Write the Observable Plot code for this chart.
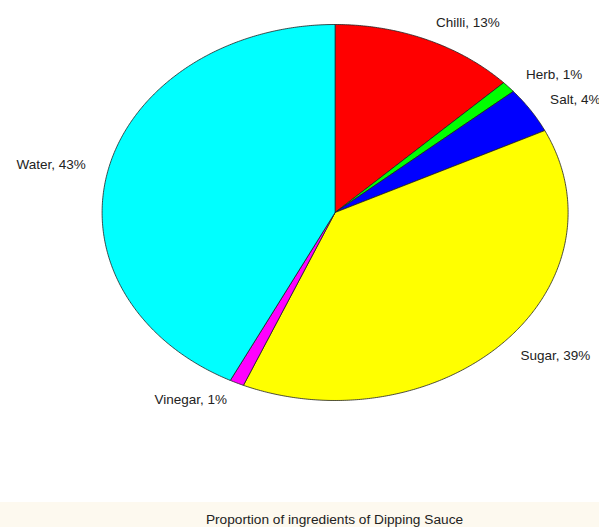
<!DOCTYPE html>
<html>
<head>
<meta charset="utf-8">
<script src="https://cdn.jsdelivr.net/npm/d3@7"></script>
<script src="https://cdn.jsdelivr.net/npm/@observablehq/plot@0.6"></script>
<style>
  html, body { margin: 0; padding: 0; background: #ffffff; }
  #chart svg { display: block; }
  #caption {
    width: 599px; height: 25px; background: #fdf9ef;
    font-family: "Liberation Sans", Arial, sans-serif; font-size: 13.7px; color: #222;
    text-align: center; line-height: 14px; padding-top: 11px; padding-left: 70px;
    box-sizing: border-box; overflow: hidden; white-space: nowrap;
  }
</style>
</head>
<body>
<div id="chart"></div>
<div id="caption">Proportion of ingredients of Dipping Sauce</div>
<script>
const ingredients = ["Chilli", "Herb", "Salt", "Sugar", "Vinegar", "Water"];
const amounts = [13, 1, 4, 39, 1, 43];
const percentLabels = ["13%", "1%", "4%", "39%", "1%", "43%"];
const colors = ["#ff0000", "#00ff00", "#0000ff", "#ffff00", "#ff00ff", "#00ffff"];

const total = d3.sum(amounts);
const slices = [];
const labels = [];
let cum = 0;
ingredients.forEach((name, i) => {
  const a0 = cum / total * 2 * Math.PI;
  cum += amounts[i];
  const a1 = cum / total * 2 * Math.PI;
  const n = Math.max(2, Math.ceil((a1 - a0) / (Math.PI / 360)));
  slices.push({name, x: 0, y: 0});
  for (let k = 0; k <= n; k++) {
    const a = a0 + (a1 - a0) * k / n;
    slices.push({name, x: Math.sin(a), y: Math.cos(a)});
  }
  slices.push({name, x: 0, y: 0});
  const am = (a0 + a1) / 2;
  labels.push({name, text: `${name}, ${percentLabels[i]}`, x: 1.1 * Math.sin(am), y: 1.1 * Math.cos(am)});
});

const chart = Plot.plot({
  width: 599,
  height: 502,
  margin: 0,
  style: {fontFamily: "'Liberation Sans', Arial, sans-serif", fontSize: "13.5px", background: "#ffffff"},
  x: {domain: [-1, 1], range: [101.6, 567.6], axis: null},
  y: {domain: [-1, 1], range: [400, 24], axis: null},
  color: {domain: ingredients, range: colors},
  marks: [
    Plot.line(slices, {x: "x", y: "y", z: "name", fill: "name", stroke: "#222", strokeWidth: 0.8, curve: "linear"}),
    Plot.text(labels.filter(d => d.x >= 0), {x: "x", y: "y", text: "text", textAnchor: "start", fill: "#222", fontSize: 13.5}),
    Plot.text(labels.filter(d => d.x < 0), {x: "x", y: "y", text: "text", textAnchor: "end", fill: "#222", fontSize: 13.5})
  ]
});
document.getElementById("chart").appendChild(chart);
</script>
</body>
</html>
